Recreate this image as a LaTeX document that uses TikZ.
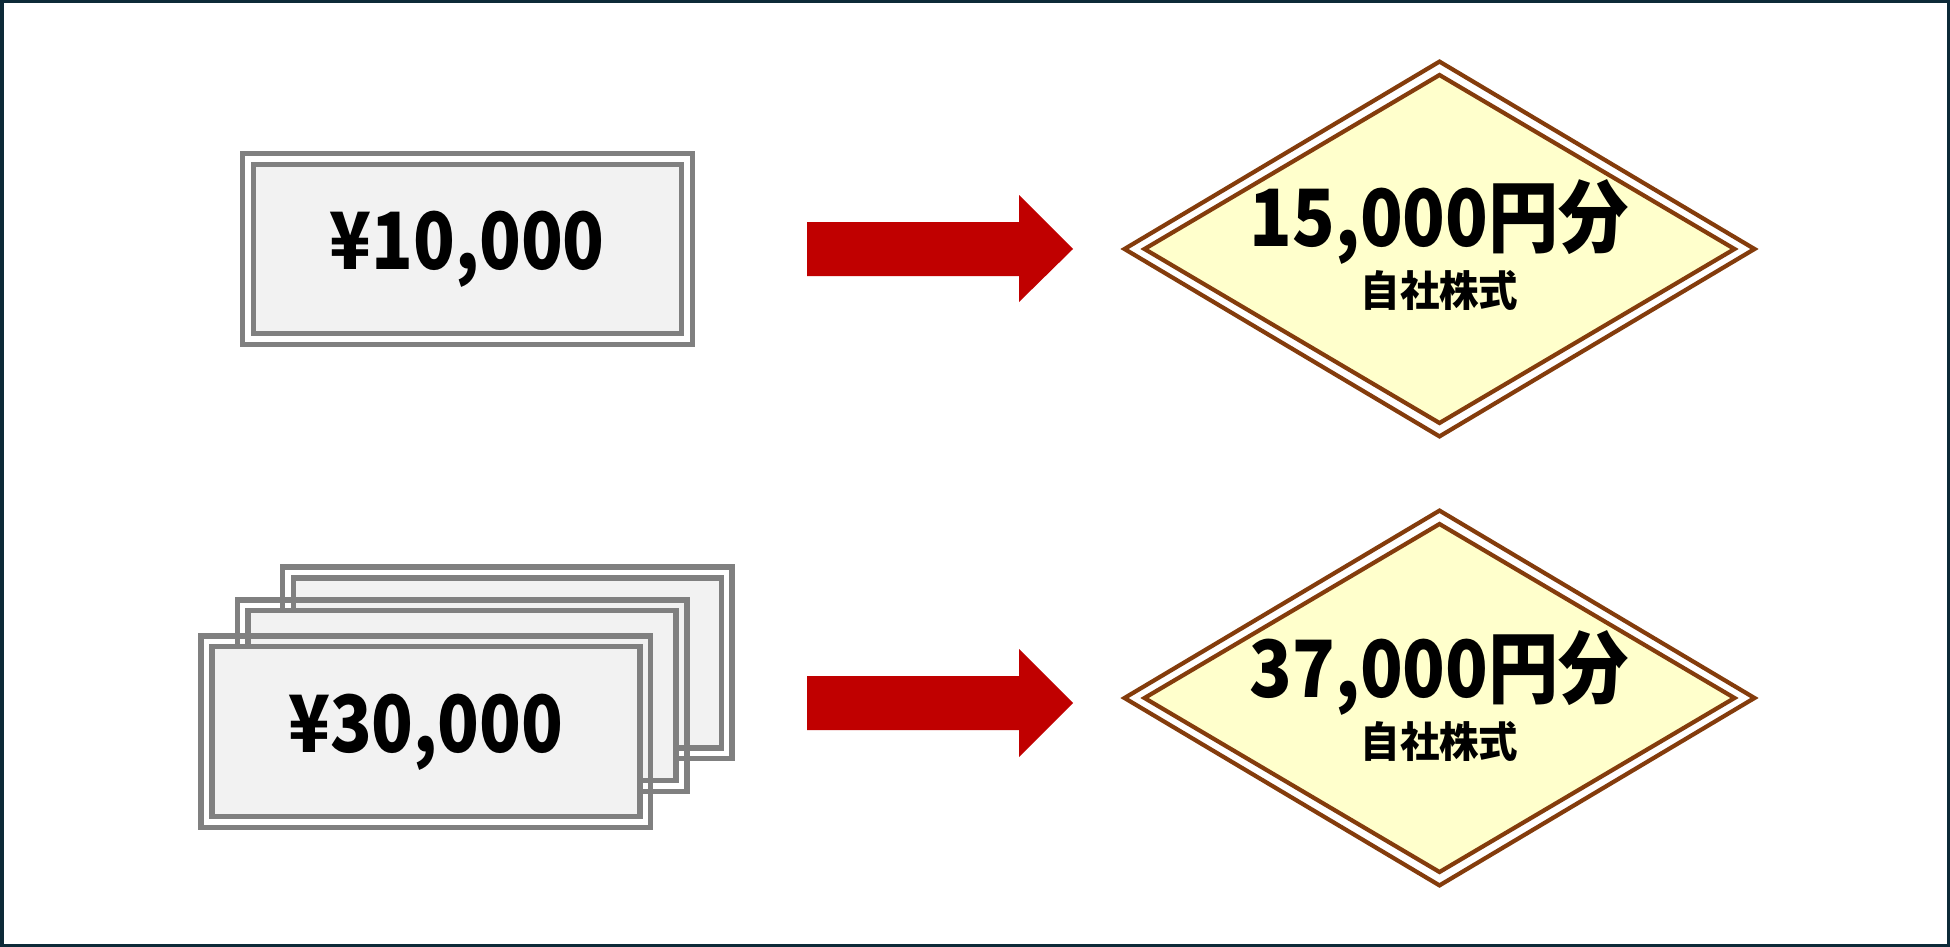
\documentclass[tikz,border=0pt]{standalone}
\usepackage{fontspec}
\usepackage{graphicx}
\newfontfamily\jp{Noto Sans CJK JP}
\usetikzlibrary{shapes.geometric,calc}
\definecolor{framecol}{HTML}{0D2A38}
\definecolor{billgray}{HTML}{808080}
\definecolor{billfill}{HTML}{F2F2F2}
\definecolor{diabrown}{HTML}{843C0C}
\definecolor{diafill}{HTML}{FFFFCC}
\definecolor{arrowred}{HTML}{C00000}
\begin{document}
\begin{tikzpicture}[x=0.5pt,y=-0.5pt,
  billin/.style={draw=billgray, line width=2.65pt, fill=billfill, inner sep=0pt, outer sep=0pt,
    minimum width=214pt, minimum height=85pt,
    font=\jp\bfseries\fontsize{39.5pt}{40pt}\selectfont},
  billout/.style={draw=billgray, line width=2.65pt},
  diaout/.style={shape=diamond, draw=diabrown, line width=2.1pt, fill=white, inner sep=0pt, outer sep=0pt,
    minimum width=315pt, minimum height=187.4pt},
  diain/.style={shape=diamond, draw=diabrown, line width=2.1pt, fill=diafill, inner sep=0pt, outer sep=0pt,
    minimum width=295pt, minimum height=174pt},
  bigtext/.style={font=\jp\bfseries\fontsize{39.5pt}{40pt}\selectfont, inner sep=0pt, anchor=base},
  smalltext/.style={font=\jp\bfseries\fontsize{21pt}{22pt}\selectfont, inner sep=0pt},
  redarrow/.style={fill=arrowred}]
\useasboundingbox (0,0) rectangle (1950,947);
\fill[white] (0,0) rectangle (1950,947);

% single bill
\node[billin, minimum height=84.55pt] (b1) at (467.2,248.8) {\scalebox{0.87}[1]{¥10,000}};
\draw[billout] ($(b1.north west)+(-11,-11)$) rectangle ($(b1.south east)+(11,11)$);

% stacked bills (back to front)
\node[billin] (b4) at (507.2,662.9) {};
\draw[billout] ($(b4.north west)+(-10.8,-10.8)$) rectangle ($(b4.south east)+(10.8,10.8)$);
\draw[billout] ($(462.1,695.8)+(-224.8,-95.8)$) rectangle ($(462.1,695.8)+(224.8,95.8)$);
\node[billin] (b3) at (462.1,695.8) {};
\draw[billout] ($(425.9,731.8)+(-224.8,-95.8)$) rectangle ($(425.9,731.8)+(224.8,95.8)$);
\node[billin] (b2) at (425.9,731.8) {\scalebox{0.87}[1]{¥30,000}};

% arrows
\fill[redarrow] (807,222) -- (1019,222) -- (1019,195) -- (1073,249) -- (1019,302) -- (1019,276) -- (807,276) -- cycle;
\fill[redarrow] (807,676) -- (1019,676) -- (1019,649) -- (1073,703) -- (1019,757) -- (1019,730) -- (807,730) -- cycle;

% diamonds
\node[diaout] (d1o) at (1439.5,249) {};
\node[diain] (d1) at (1439.5,249) {};
\node[bigtext] (t1) at ($(d1.center)+(0,-3)$) {\scalebox{0.89}[1]{15,000円分}};
\node[smalltext] (s1) at ($(d1.center)+(0,41)$) {\scalebox{0.94}[1]{自社株式}};

\node[diaout] (d2o) at (1439.5,698) {};
\node[diain] (d2) at (1439.5,698) {};
\node[bigtext] (t2) at ($(d2.center)+(0,-1)$) {\scalebox{0.89}[1]{37,000円分}};
\node[smalltext] (s2) at ($(d2.center)+(0,43)$) {\scalebox{0.94}[1]{自社株式}};

% frame
\draw[framecol, line width=1.75pt] (1.75,1.75) rectangle (1948.25,945.25);
\end{tikzpicture}
\end{document}
